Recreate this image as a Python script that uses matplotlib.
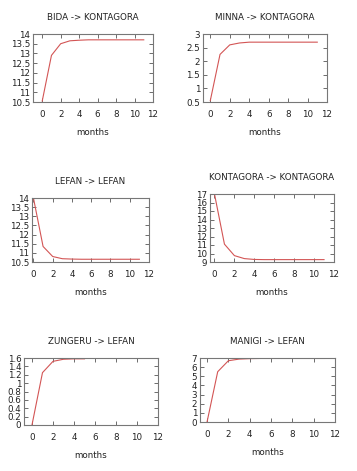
import matplotlib
matplotlib.use('Agg')
import matplotlib.pyplot as plt
import numpy as np

# data
titles = ['BIDA -> KONTAGORA', 'MINNA -> KONTAGORA', 'LEFAN -> LEFAN',
          'KONTAGORA -> KONTAGORA', 'ZUNGERU -> LEFAN', 'MANIGI -> LEFAN']
bida = [10.55, 12.9, 13.5, 13.65, 13.68, 13.7, 13.7, 13.7, 13.7, 13.7, 13.7, 13.7]
minna = [0.55, 2.25, 2.6, 2.67, 2.7, 2.7, 2.7, 2.7, 2.7, 2.7, 2.7, 2.7]
lefan = [14.0, 11.35, 10.8, 10.68, 10.66, 10.65, 10.65, 10.65, 10.65, 10.65, 10.65, 10.65]
kontagora = [17.0, 11.1, 9.75, 9.4, 9.3, 9.28, 9.28, 9.28, 9.28, 9.28, 9.28, 9.28]
zungeru = [0.0, 1.25, 1.52, 1.57, 1.58, 1.58]
manigi = [0.0, 5.5, 6.7, 6.88, 6.93, 6.95, 6.95, 6.95, 6.95, 6.95, 6.95, 6.95]
series = [bida, minna, lefan, kontagora, zungeru, manigi]
ylims = [(10.5, 14), (0.5, 3), (10.5, 14), (9, 17), (0, 1.6), (0, 7)]
ysteps = [0.5, 0.5, 0.5, 1, 0.2, 1]
xmins = [-1.0, -0.75, -0.15, -0.45, -0.76, -0.66]

# axes boxes in pixels: left, right, top, bottom
boxes = [(33, 153, 34, 102), (203, 327, 34, 102), (32, 149, 198, 262),
         (210, 334, 194, 262), (24, 158, 358, 425), (200, 335, 358, 422)]

W, H = 357, 471
fig = plt.figure(figsize=(W / 100, H / 100), dpi=100)
fs = 6.3

for i in range(6):
    l, r, t, b = boxes[i]
    ax = fig.add_axes([l / W, 1 - b / H, (r - l) / W, (b - t) / H])
    y = series[i]
    ax.plot(np.arange(len(y)), y, color='#d35555', linewidth=0.8)
    ax.set_xlim(xmins[i], 12)
    ax.set_ylim(*ylims[i])
    ax.set_xticks(range(0, 13, 2))
    lo, hi = ylims[i]
    ticks = np.arange(lo, hi + ysteps[i] / 2, ysteps[i])
    ax.set_yticks(ticks)
    ax.set_yticklabels(['%g' % round(v, 2) for v in ticks])
    ax.tick_params(direction='in', top=True, right=True, length=3, width=0.6,
                   color='#555555', labelsize=fs, labelcolor='#222222', pad=6)
    ax.tick_params(axis='y', pad=2)
    for s in ax.spines.values():
        s.set_color('#777777')
        s.set_linewidth(0.8)
    ax.set_title(titles[i], fontsize=fs, pad=10, color='#222222')
    ax.set_xlabel('months', fontsize=fs, labelpad=6, color='#222222')

fig.savefig('out.png', dpi=100)
